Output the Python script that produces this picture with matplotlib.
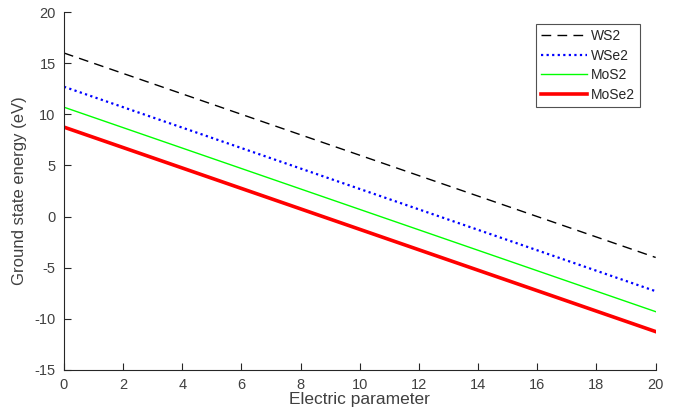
import matplotlib
matplotlib.use("Agg")
import matplotlib.pyplot as plt

plt.rcParams['font.family'] = ['Liberation Sans', 'DejaVu Sans']
plt.rcParams['axes.unicode_minus'] = False

x = [0, 20]
names = ["WS2", "WSe2", "MoS2", "MoSe2"]
ws2 = [16.0, -4.0]
wse2 = [12.7, -7.3]
mos2 = [10.7, -9.3]
mose2 = [8.75, -11.25]
xticks = list(range(0, 21, 2))
yticks = list(range(-15, 21, 5))

gray = '#262626'
fig = plt.figure(figsize=(6.88, 4.18), dpi=100)
ax = fig.add_axes([0.093, 0.115, 0.860, 0.856])

ax.plot(x, ws2, color='k', linestyle=(0, (7, 4.5)), linewidth=1.0, label=names[0])
ax.plot(x, wse2, color=(0, 0, 1), linestyle=(0, (1, 1.5)), linewidth=1.6, label=names[1])
ax.plot(x, mos2, color=(0, 1, 0), linestyle='-', linewidth=1.0, label=names[2])
ax.plot(x, mose2, color=(1, 0, 0), linestyle='-', linewidth=2.6, label=names[3])

ax.set_xlim(0, 20)
ax.set_ylim(-15, 20)
ax.set_xticks(xticks)
ax.set_yticks(yticks)
ax.spines['top'].set_visible(False)
ax.spines['right'].set_visible(False)
for s in ['left', 'bottom']:
    ax.spines[s].set_color(gray)
    ax.spines[s].set_linewidth(0.8)
ax.tick_params(direction='in', length=5, width=0.8, colors=gray, labelsize=10.5,
               labelcolor='#404040')
ax.tick_params(axis='x', pad=6)
ax.tick_params(axis='y', pad=6)
ax.set_xlabel('Electric parameter', fontsize=12.5, color='#404040', labelpad=0)
ax.set_ylabel('Ground state energy (eV)', fontsize=12, color='#404040', labelpad=5)

leg = ax.legend(loc='upper right', bbox_to_anchor=(0.973, 0.966), fontsize=10,
                frameon=True, fancybox=False, edgecolor=gray, handlelength=3.3,
                borderpad=0.35, labelspacing=0.4, handletextpad=0.3,
                borderaxespad=0.0)
leg.get_frame().set_linewidth(0.8)
for t in leg.get_texts():
    t.set_color(gray)

fig.savefig('out.png', dpi=100)
